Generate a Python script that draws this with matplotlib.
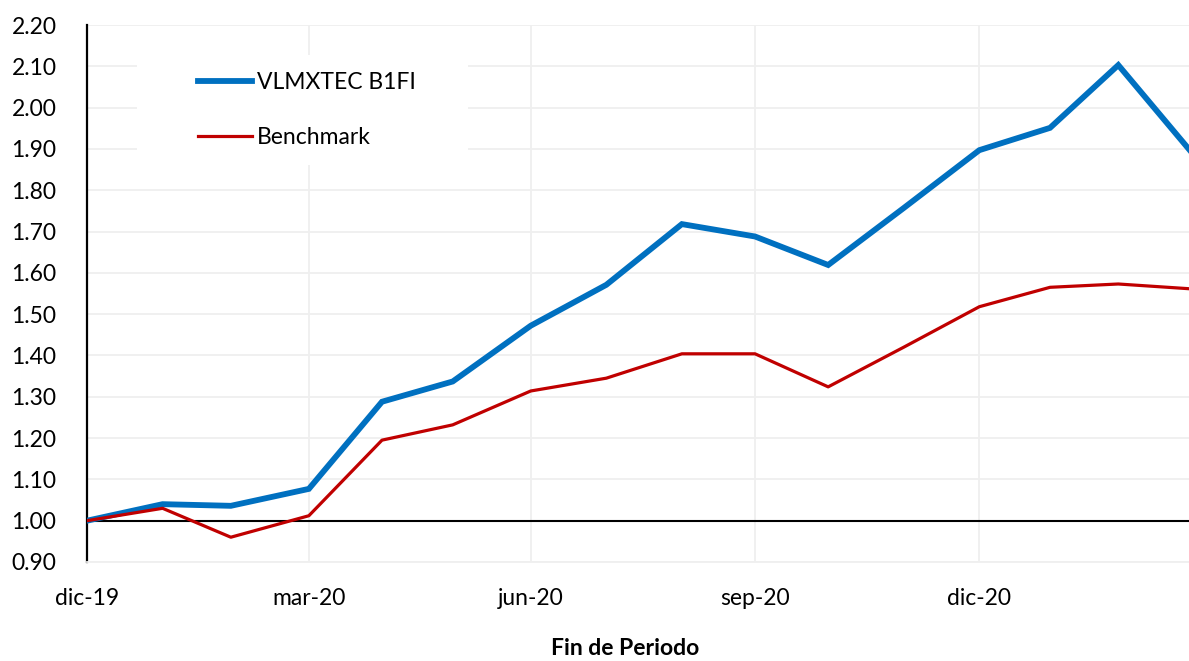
import numpy as np
import pandas as pd
import matplotlib
matplotlib.use('Agg')
import matplotlib.pyplot as plt
from matplotlib.patches import Rectangle

# --- DADOS (fim de mês, último dia útil) ---
fechas = pd.to_datetime([
    '2019-12-31', '2020-01-31', '2020-02-28', '2020-03-31', '2020-04-30',
    '2020-05-29', '2020-06-30', '2020-07-31', '2020-08-31', '2020-09-30',
    '2020-10-30', '2020-11-30', '2020-12-31', '2021-01-29', '2021-02-26',
    '2021-03-31',
])
fondo = [1.000, 1.040, 1.036, 1.077, 1.288, 1.337, 1.472, 1.571, 1.718,
         1.688, 1.619, 1.757, 1.897, 1.951, 2.103, 1.871]
benchmark = [1.000, 1.030, 0.960, 1.012, 1.195, 1.232, 1.314, 1.345, 1.404,
             1.404, 1.324, 1.420, 1.518, 1.565, 1.573, 1.560]
etiquetas_x = ['dic-19', 'mar-20', 'jun-20', 'sep-20', 'dic-20']
ticks_x = pd.to_datetime(['2019-12-31', '2020-03-31', '2020-06-30',
                          '2020-09-30', '2020-12-31'])
ticks_y = np.round(np.arange(0.9, 2.21, 0.1), 2)

AZUL = '#0070C0'
ROJO = '#C00000'
GRID = '#EFEFEF'
FONTE = 'Lato'
TAM = 16.5

plt.rcParams['font.family'] = [FONTE, 'DejaVu Sans']

fig = plt.figure(figsize=(11.89, 6.61), dpi=100)
ax = fig.add_axes([87 / 1189, 99 / 661, 1102 / 1189, 537 / 661])

ax.plot(fechas, fondo, color=AZUL, lw=4.2, label='VLMXTEC B1FI', zorder=4,
        solid_joinstyle='miter')
ax.plot(fechas, benchmark, color=ROJO, lw=2.3, label='Benchmark', zorder=5)
ax.axhline(1.0, color='black', lw=1.5, zorder=3)

ax.set_ylim(0.9, 2.2)
ax.set_xlim(pd.Timestamp('2019-12-31'), pd.Timestamp('2021-03-27'))
ax.set_yticks(ticks_y)
ax.set_yticklabels([f'{v:.2f}' for v in ticks_y])
ax.set_xticks(ticks_x)
ax.set_xticklabels(etiquetas_x)
ax.tick_params(axis='both', length=0, labelsize=TAM, colors='black')
ax.tick_params(axis='y', pad=22)
ax.tick_params(axis='x', pad=19)

ax.grid(True, color=GRID, lw=1.3, zorder=0)
ax.set_axisbelow(True)
for s in ['top', 'right']:
    ax.spines[s].set_visible(False)
ax.spines['bottom'].set_color(GRID)
ax.spines['bottom'].set_linewidth(1.3)
ax.spines['left'].set_color('black')
ax.spines['left'].set_linewidth(1.6)

ax.set_xlabel('Fin de Periodo', fontsize=TAM, fontweight='bold')
ax.xaxis.set_label_coords((625 - 87) / 1102, -(638 - 562) / 537)
ax.xaxis.label.set_va('top')

# Caixa branca atrás da legenda (cobre as grades)
ax.add_patch(Rectangle(((137 - 87) / 1102, (562 - 165) / 537),
                       (468 - 137) / 1102, 110 / 537,
                       transform=ax.transAxes, facecolor='white',
                       edgecolor='none', zorder=2))
leg = ax.legend(loc='upper left', bbox_to_anchor=((198 - 87) / 1102, (562 - 72) / 537),
                frameon=False, fontsize=TAM, handlelength=2.35, handletextpad=0.22,
                labelspacing=1.5, borderpad=0, borderaxespad=0)
leg.set_zorder(6)

fig.savefig('out.png', dpi=100, facecolor='white')
